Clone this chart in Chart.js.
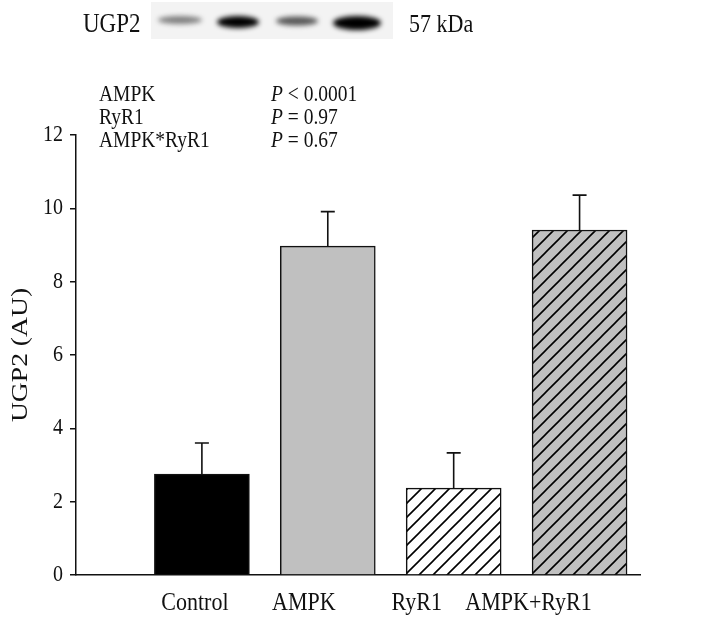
<!DOCTYPE html>
<html>
<head>
<meta charset="utf-8">
<script src="https://cdn.jsdelivr.net/npm/chart.js@4"></script>
<style>
  body { margin: 0; background: #fff; }
  #wrap { width: 709px; height: 618px; }
</style>
</head>
<body>
<div id="wrap"><canvas id="myChart" width="709" height="618"></canvas></div>
<script>
// values
const categories = ["Control", "AMPK", "RyR1", "AMPK+RyR1"];
const means = [2.75, 8.97, 2.37, 9.41];
const sems = [0.85, 0.94, 0.96, 0.95];
const statNames = ["AMPK", "RyR1", "AMPK*RyR1"];
const statValues = ["< 0.0001", "= 0.97", "= 0.67"];
const yMin = 0, yMax = 12, yStep = 2;

// layout bits
const FONT = '"Liberation Serif", "Times New Roman", serif';
const STRETCH = 1.15;
const labelShift = [-7, -24, -37, -51];

function hatch(bg) {
	let c = document.createElement("canvas");
	c.width = 14; c.height = 14;
	let g = c.getContext("2d");
	g.fillStyle = bg;
	g.fillRect(0, 0, 14, 14);
	g.strokeStyle = "#000";
	g.lineWidth = 1.6;
	g.beginPath();
	g.moveTo(-2, 16); g.lineTo(16, -2);
	g.moveTo(-2, 2); g.lineTo(2, -2);
	g.moveTo(12, 16); g.lineTo(16, 12);
	g.stroke();
	return g.createPattern(c, "repeat");
}

function txt(ctx, s, x, y, size, align, italic) {
	ctx.save();
	ctx.translate(x, y);
	ctx.scale(1, STRETCH);
	ctx.font = (italic ? "italic " : "") + size + "px " + FONT;
	ctx.textAlign = align || "left";
	ctx.textBaseline = "middle";
	ctx.fillStyle = "#111";
	ctx.fillText(s, 0, 0);
	ctx.restore();
}

const extras = {
	id: "extras",
	afterDatasetsDraw(chart) {
		let ctx = chart.ctx;
		let xs = chart.scales.x, ys = chart.scales.y;
		ctx.save();
		ctx.strokeStyle = "#111";
		ctx.lineWidth = 1.6;
		means.forEach((m, i) => {
			let x = xs.getPixelForValue(i + 1);
			let y0 = ys.getPixelForValue(m);
			let y1 = ys.getPixelForValue(m + sems[i]);
			ctx.beginPath();
			ctx.moveTo(x, y0); ctx.lineTo(x, y1);
			ctx.moveTo(x - 7, y1); ctx.lineTo(x + 7, y1);
			ctx.stroke();
		});
		ctx.restore();
	},
	afterDraw(chart) {
		let ctx = chart.ctx;
		let xs = chart.scales.x, ys = chart.scales.y;

		// y tick labels
		ys.ticks.forEach((t) => {
			txt(ctx, String(t.value), 63, ys.getPixelForValue(t.value), 20, "right");
		});

		// y title
		ctx.save();
		ctx.translate(21, 355);
		ctx.rotate(-Math.PI / 2);
		ctx.scale(STRETCH, 1);
		ctx.font = "24px " + FONT;
		ctx.textAlign = "center";
		ctx.textBaseline = "middle";
		ctx.fillStyle = "#111";
		ctx.fillText("UGP2 (AU)", 0, 0);
		ctx.restore();

		// category labels
		categories.forEach((c, i) => {
			txt(ctx, c, xs.getPixelForValue(i + 1) + labelShift[i], 603, 22, "center");
		});

		// statistics
		statNames.forEach((n, i) => {
			let y = 95 + i * 23;
			txt(ctx, n, 99, y, 19.5, "left");
			ctx.font = "italic 19.5px " + FONT;
			let w = ctx.measureText("P").width;
			txt(ctx, "P", 271, y, 19.5, "left", true);
			txt(ctx, " " + statValues[i], 271 + w, y, 19.5, "left");
		});

		// western blot strip
		ctx.save();
		ctx.fillStyle = "#f3f3f3";
		ctx.fillRect(151, 2, 242, 37);
		ctx.filter = "blur(2.5px)";
		let bands = [[180, 20, 22, 4, "rgba(90,90,90,0.75)"], [238, 22, 21, 6, "#000"],
			[297, 21, 21, 4.5, "rgba(60,60,60,0.85)"], [357, 23, 24, 7, "#000"]];
		bands.forEach((b) => {
			ctx.fillStyle = b[4];
			ctx.beginPath();
			ctx.ellipse(b[0], b[1], b[2], b[3], 0, 0, Math.PI * 2);
			ctx.fill();
		});
		ctx.restore();
		txt(ctx, "UGP2", 83, 25, 23, "left");
		txt(ctx, "57 kDa", 409, 25, 22, "left");
	}
};

let ctx = document.getElementById("myChart");
let data = {
	datasets: [{
		data: means.map((m, i) => ({ x: i + 1, y: m })),
		backgroundColor: ["#000000", "#c0c0c0", hatch("#ffffff"), hatch("#c0c0c0")],
		borderColor: "#111",
		borderWidth: 1.5,
		barThickness: 95
	}]
};
let myChart = new Chart(ctx, {
	type: "bar",
	data: data,
	plugins: [extras],
	options: {
		responsive: false,
		animation: false,
		devicePixelRatio: 1,
		layout: { padding: { top: 135, right: 69, left: 0, bottom: 0 } },
		plugins: { legend: { display: false }, tooltip: { enabled: false } },
		scales: {
			x: {
				type: "linear",
				offset: false,
				min: 0,
				max: 4.48,
				ticks: { display: false },
				grid: { display: false },
				border: { display: true, color: "#111", width: 1.5 },
				afterFit: (s) => { s.height = 43; }
			},
			y: {
				min: yMin,
				max: yMax,
				ticks: { display: false, stepSize: yStep },
				grid: { drawOnChartArea: false, drawTicks: true, tickLength: 6, color: "#111", lineWidth: 1.5 },
				border: { display: true, color: "#111", width: 1.5 },
				afterFit: (s) => { s.width = 76; }
			}
		}
	}
});
</script>
</body>
</html>
